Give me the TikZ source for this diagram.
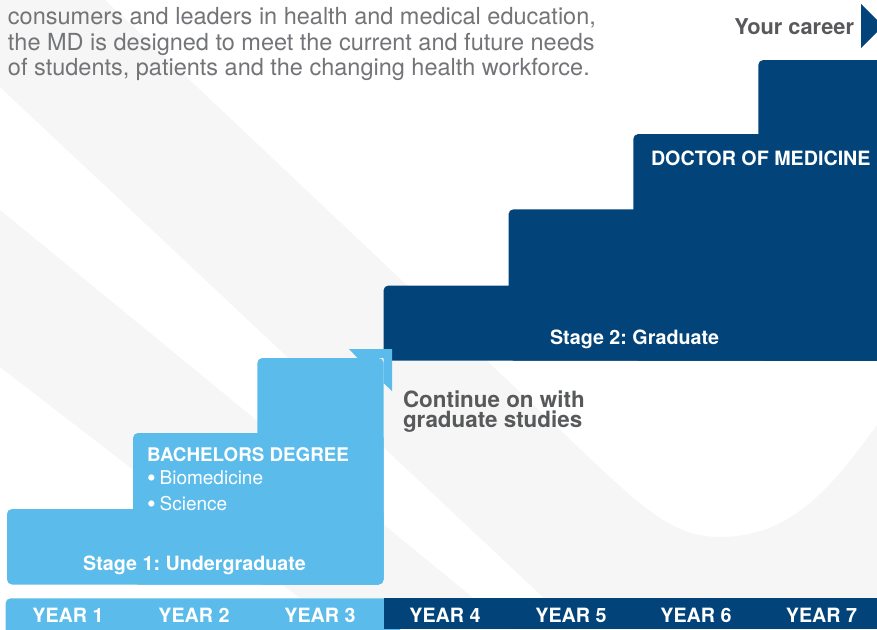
\documentclass[tikz,border=0pt]{standalone}
\usepackage{fontspec}
\setmainfont{TeX Gyre Heros}
\frenchspacing
\definecolor{lblue}{HTML}{5BBCEB}
\definecolor{dblue}{HTML}{02447A}
\definecolor{bggray}{HTML}{F6F6F6}
\definecolor{txtgray}{HTML}{58595B}
\definecolor{paragray}{HTML}{737477}
\tikzset{
  every node/.style={inner sep=0pt, outer sep=0pt},
  para/.style={anchor=base west, text=paragray, font=\fontsize{23.5}{26}\selectfont},
  lbl/.style={text=white, font=\fontsize{19.7}{22}\selectfont\bfseries},
  yearlbl/.style={anchor=base, text=white, font=\fontsize{19.7}{22}\selectfont\bfseries},
  item/.style={anchor=base west, text=white, font=\fontsize{19}{22}\selectfont},
  grayhead/.style={anchor=base west, text=txtgray, font=\fontsize{22.4}{20}\selectfont\bfseries},
  stepL/.style={fill=lblue, rounded corners=5},
  stepD/.style={fill=dblue, rounded corners=5},
}
\newcommand{\mybullet}{\raisebox{-2.2pt}{\scalebox{1.3}{\textbullet}}\hspace{4pt}}
\begin{document}
\begin{tikzpicture}[x=1pt,y=-1pt]
\useasboundingbox (0,0) rectangle (877,629);
\clip (0,0) rectangle (877,629);
\fill[white] (0,0) rectangle (877,629);
% background bands
\fill[bggray] (0,0) -- (105,0) -- (560,430) .. controls (640,506) and (670,537) .. (720,537) .. controls (790,537) and (830,490) .. (877,425) -- (877,629) -- (577,629) -- (0,87) -- cycle;
\fill[bggray] (0,210) -- (511,629) -- (340,629) -- (0,367) -- cycle;

% dark blue staircase
\fill[stepD] (383.5,285.5) rectangle (895,360.5);
\fill[stepD] (508.5,209.3) rectangle (895,360.5);
\fill[stepD] (633.3,134) rectangle (895,360.5);
\fill[stepD] (758.3,60) rectangle (895,360.5);

% light blue staircase
\fill[stepL] (7,509) rectangle (383.5,584.5);
\fill[stepL] (133,433) rectangle (383.5,584.5);
\fill[stepL] (257.3,358) rectangle (383.5,584.5);
\fill[lblue] (357.5,358) -- (349,349) -- (392,349) -- (392,391) -- (383.5,383) -- (383.5,358) -- cycle;

% year bar
\fill[stepL] (5.6,598.3) rectangle (400,645);
\fill[dblue] (383.5,598.3) rectangle (877,629);

% your career arrow
\fill[dblue] (861,4) -- (883,26) -- (861,48) -- cycle;

% texts
\node[para] (p1) at (8,24) {consumers and leaders in health and medical education,};
\node[para] (p2) at (8,50) {the MD is designed to meet the current and future needs};
\node[para] (p3) at (8,75.5) {of students, patients and the changing health workforce.};

\node[anchor=base east, text=txtgray, font=\fontsize{21.8}{24}\selectfont\bfseries] (career) at (854,34) {Your career};

\node[lbl, anchor=base west] (dom) at (651,165) {DOCTOR OF MEDICINE};
\node[lbl, anchor=base] (s2) at (634.5,344) {Stage 2: Graduate};
\node[lbl, anchor=base] (s1) at (194.5,570) {Stage 1: Undergraduate};
\node[lbl, anchor=base west, font=\fontsize{18.8}{22}\selectfont\bfseries] (bach) at (147,461.7) {BACHELORS DEGREE};
\node[item] (bio) at (147,484) {\mybullet Biomedicine};
\node[item] (sci) at (147,510) {\mybullet Science};

\node[grayhead] (cont1) at (403,407.7) {Continue on with};
\node[grayhead] (cont2) at (403,427.7) {graduate studies};

\node[yearlbl] (y1) at (68,622) {YEAR 1};
\node[yearlbl] (y2) at (194,622) {YEAR 2};
\node[yearlbl] (y3) at (320,622) {YEAR 3};
\node[yearlbl] (y4) at (445,622) {YEAR 4};
\node[yearlbl] (y5) at (571,622) {YEAR 5};
\node[yearlbl] (y6) at (696,622) {YEAR 6};
\node[yearlbl] (y7) at (821.5,622) {YEAR 7};
\end{tikzpicture}
\end{document}
